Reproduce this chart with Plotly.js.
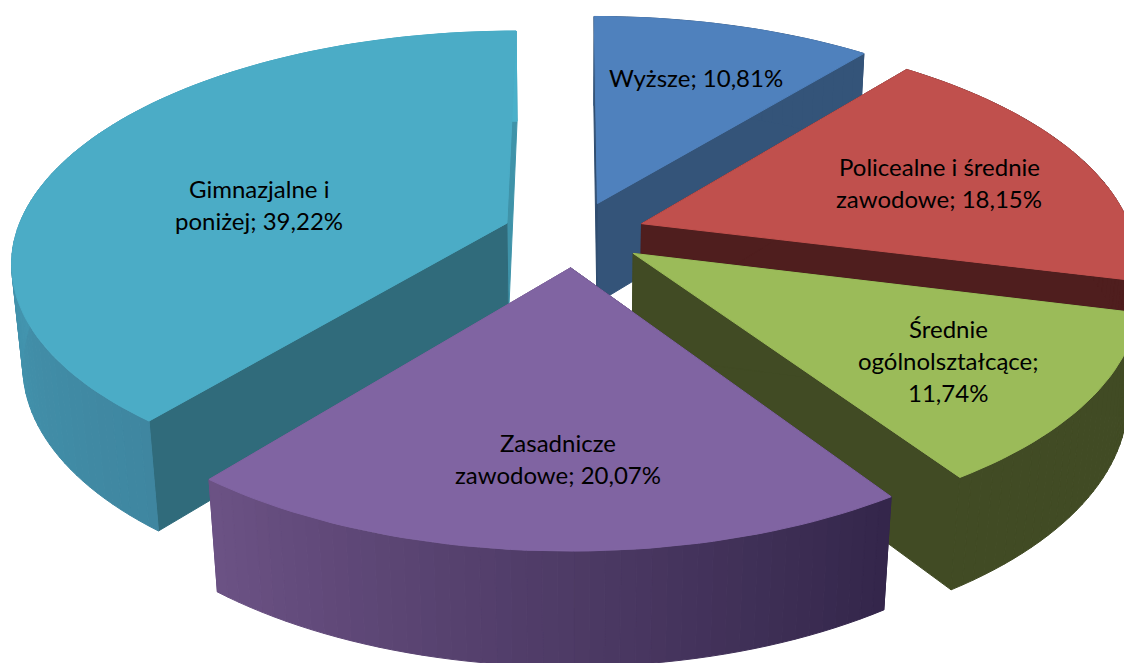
<!DOCTYPE html>
<html>
<head>
<meta charset="utf-8">
<script src="https://cdn.plot.ly/plotly-3.0.1.min.js"></script>
<style>html,body{margin:0;padding:0;background:#fff}#chart{width:1124px;height:663px}</style>
</head>
<body>
<div id="chart"></div>
<script>
// Data
const categories = ["Wyższe", "Policealne i średnie zawodowe", "Średnie ogólnokształcące", "Zasadnicze zawodowe", "Gimnazjalne i poniżej"];
const shares = [10.81, 18.15, 11.74, 20.07, 39.22];
const labelLines = [
  ["Wyższe; 10,81%"],
  ["Policealne i średnie", "zawodowe; 18,15%"],
  ["Średnie", "ogólnolształcące;", "11,74%"],
  ["Zasadnicze", "zawodowe; 20,07%"],
  ["Gimnazjalne i", "poniżej; 39,22%"]
];
// Styles
const topColors = ["#4f81bd", "#c0504d", "#9bbb59", "#8064a2", "#4bacc6"];
const radialStart = ["#2f4d70", "#4f1e1e", "#414b24", "#33264a", "#306b7b"];
const radialEnd = ["#345479", "#4f1e1e", "#414b24", "#6c5285", "#3f93a9"];
const outerFrom = ["#345479", "#4f1e1e", "#414b24", "#33264a", "#3f86a0"];
const outerTo = ["#345479", "#4f1e1e", "#414b24", "#6c5285", "#4ab0ca"];
const labelCenters = [[696, 77], [939, 182], [948, 360], [558, 458], [259, 204]];
const paintOrder = [0, 4, 1, 2, 3];
const lineStep = 32;

// Perspective view of the exploded, extruded pie
const view = {cx: 574, cy: 234, a: 491, b: 226, k: 0.16, m: 0.02, v: 103, explode: 0.146};
function project(X, Y, h) {
  const w = 1 + view.k * Y + view.m * h;
  return [view.cx + view.a * X / w, view.cy + (-view.b * Y + view.v * h) / w];
}
function hex(c) { return [1, 3, 5].map(i => parseInt(c.substr(i, 2), 16)); }
function mix(c1, c2, t) {
  const a = hex(c1), b = hex(c2);
  return "rgb(" + a.map((v, i) => Math.round(v + (b[i] - v) * t)).join(",") + ")";
}
function poly(points, color) {
  return {
    type: "scatter", mode: "lines", fill: "toself", fillcolor: color,
    x: points.map(p => p[0]), y: points.map(p => p[1]),
    line: {color: color, width: 1}, hoverinfo: "skip", showlegend: false
  };
}

const total = shares.reduce((s, v) => s + v, 0);
let cumulative = 0;
const slices = shares.map((v, i) => {
  const start = cumulative / total * 2 * Math.PI;
  cumulative += v;
  return {i: i, start: start, end: cumulative / total * 2 * Math.PI};
});

const traces = [];
paintOrder.forEach(idx => {
  const s = slices[idx];
  const mid = (s.start + s.end) / 2;
  const ox = view.explode * Math.sin(mid), oy = view.explode * Math.cos(mid);
  const rim = (ang) => [ox + Math.sin(ang), oy + Math.cos(ang)];
  const n = Math.max(6, Math.round((s.end - s.start) / (Math.PI / 120)));
  const angAt = j => s.start + (s.end - s.start) * j / n;
  // radial walls: far side first, the wall facing the viewer on top of it
  [[s.end, radialEnd[idx]], [s.start, radialStart[idx]]].forEach(pair => {
    const r = rim(pair[0]);
    traces.push(poly([project(ox, oy, 0), project(r[0], r[1], 0), project(r[0], r[1], 1), project(ox, oy, 1), project(ox, oy, 0)], pair[1]));
  });
  // outer wall strips
  for (let j = 0; j < n; j++) {
    const r0 = rim(angAt(j)), r1 = rim(angAt(j + 1));
    traces.push(poly([project(r0[0], r0[1], 0), project(r1[0], r1[1], 0), project(r1[0], r1[1], 1), project(r0[0], r0[1], 1), project(r0[0], r0[1], 0)],
      mix(outerFrom[idx], outerTo[idx], (j + 0.5) / n)));
  }
  // top face
  const top = [project(ox, oy, 0)];
  for (let j = 0; j <= n; j++) { const r = rim(angAt(j)); top.push(project(r[0], r[1], 0)); }
  top.push(project(ox, oy, 0));
  traces.push(poly(top, topColors[idx]));
});

const annotations = [];
labelLines.forEach((lines, i) => {
  lines.forEach((t, j) => {
    annotations.push({
      x: labelCenters[i][0],
      y: labelCenters[i][1] + (j - (lines.length - 1) / 2) * lineStep,
      xref: "x", yref: "y", text: t, showarrow: false,
      xanchor: "center", yanchor: "middle",
      font: {family: "Lato, Carlito, sans-serif", size: 24, color: "#000000"}
    });
  });
});

Plotly.newPlot("chart", traces, {
  width: 1124, height: 663,
  margin: {l: 0, r: 0, t: 0, b: 0},
  paper_bgcolor: "#ffffff", plot_bgcolor: "#ffffff",
  showlegend: false,
  xaxis: {visible: false, range: [0, 1124], fixedrange: true},
  yaxis: {visible: false, range: [663, 0], fixedrange: true},
  annotations: annotations
}, {displayModeBar: false, staticPlot: true});
</script>
</body>
</html>
